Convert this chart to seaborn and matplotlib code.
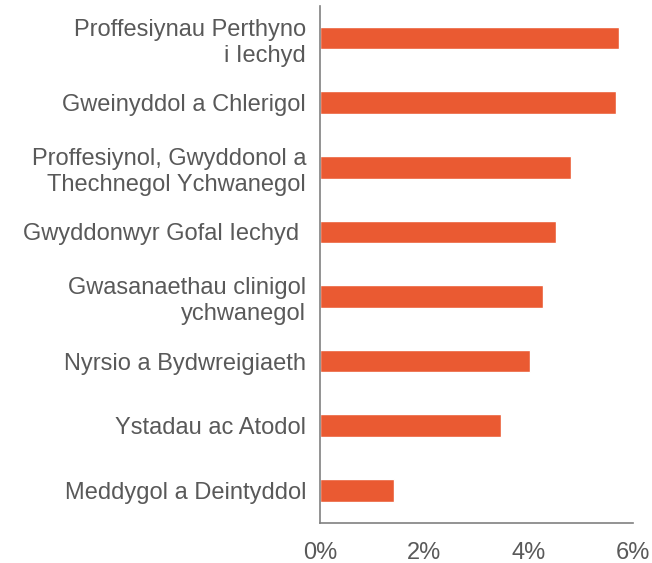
import matplotlib
matplotlib.use("Agg")
import matplotlib.pyplot as plt
import seaborn as sns
import pandas as pd
from matplotlib.ticker import FuncFormatter

# values (percent)
categories = [
    "Proffesiynau Perthyno\ni Iechyd",
    "Gweinyddol a Chlerigol",
    "Proffesiynol, Gwyddonol a\nThechnegol Ychwanegol",
    "Gwyddonwyr Gofal Iechyd ",
    "Gwasanaethau clinigol\nychwanegol",
    "Nyrsio a Bydwreigiaeth",
    "Ystadau ac Atodol",
    "Meddygol a Deintyddol",
]
values = [5.73, 5.67, 4.82, 4.52, 4.28, 4.03, 3.47, 1.42]
x_ticks = [0, 2, 4, 6]

df = pd.DataFrame({"category": categories, "value": values})

sns.set_theme(style="white")
plt.rcParams["font.family"] = ["Liberation Sans", "DejaVu Sans"]

text_color = "#595959"
bar_color = "#EA5A32"

fig = plt.figure(figsize=(6.52, 5.63), dpi=100)
ax = fig.add_axes([0.4908, 0.0719, 0.4801, 0.9178])

sns.barplot(data=df, x="value", y="category", color=bar_color,
            width=0.35, orient="h", ax=ax, saturation=1)

ax.set_xlim(0, 6)
ax.set_ylim(7.5, -0.5)
ax.set_xticks(x_ticks)
ax.xaxis.set_major_formatter(FuncFormatter(lambda x, pos: "{:d}%".format(int(x))))
ax.set_xlabel("")
ax.set_ylabel("")

for s in ["top", "right"]:
    ax.spines[s].set_visible(False)
for s in ["left", "bottom"]:
    ax.spines[s].set_color("#808080")
    ax.spines[s].set_linewidth(1.2)

ax.tick_params(axis="both", length=0, labelsize=17, colors=text_color)
ax.tick_params(axis="y", pad=10)
ax.tick_params(axis="x", pad=14)
for lbl in ax.get_yticklabels():
    lbl.set_linespacing(1.25)
    lbl.set_horizontalalignment("right")
    lbl.set_multialignment("right")

fig.savefig("out.png", dpi=100)
